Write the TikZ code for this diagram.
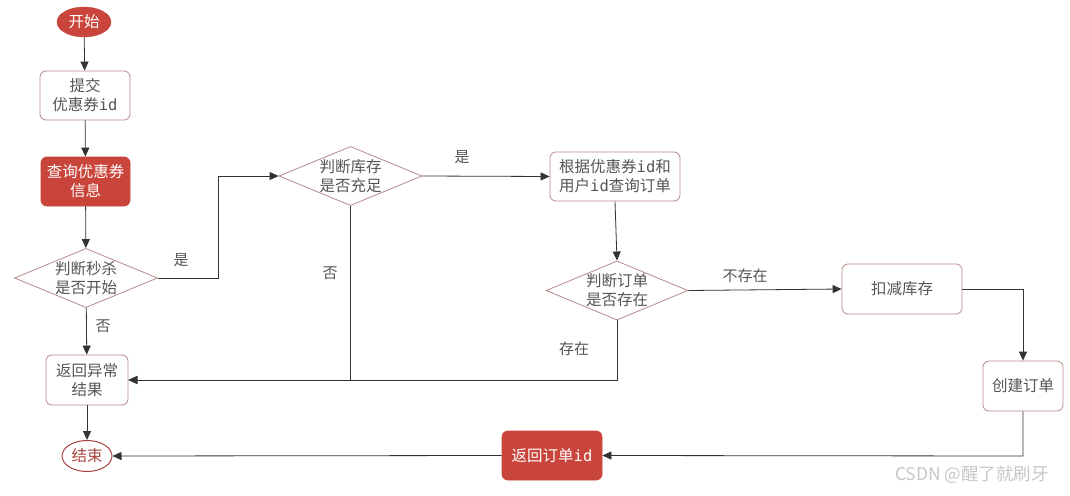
\documentclass[tikz,border=0pt]{standalone}
\usepackage{fontspec}
\setmainfont{Noto Sans CJK SC}
\newfontfamily\idfont{DejaVu Sans Mono}
\usetikzlibrary{arrows.meta,shapes.geometric}
\definecolor{redfill}{HTML}{C9443A}
\definecolor{endred}{HTML}{A8443E}
\definecolor{boxline}{HTML}{B88A88}
\definecolor{txt}{HTML}{555555}
\definecolor{lne}{HTML}{333333}
\newcommand{\idt}{{\idfont id}}
\tikzset{
  base/.style={font=\fontsize{15.5}{19}\selectfont, align=center, inner sep=0pt},
  wbox/.style={base, draw=boxline, fill=white, rounded corners=6pt, text=txt, line width=0.8pt},
  rbox/.style={base, draw=redfill, fill=redfill, rounded corners=6pt, text=white, line width=0.8pt},
  dia/.style={base, draw=boxline, diamond, aspect=2.4, text=txt, line width=0.8pt, inner sep=0pt},
  conn/.style={draw=lne, line width=0.8pt, -{Triangle[length=9pt,width=8pt]}},
  lab/.style={font=\fontsize{15}{18}\selectfont, text=txt}
}
\begin{document}
\begin{tikzpicture}[x=1pt,y=-1pt]
\useasboundingbox (0,0) rectangle (1070,495);
\fill[white] (0,0) rectangle (1070,495);
% nodes
\node[base, ellipse, fill=redfill, draw=redfill, text=white, minimum width=54pt, minimum height=30pt] (start) at (84,22) {开始};
\node[wbox, minimum width=90pt, minimum height=49pt] (submit) at (85,95.5) {提交\\优惠券\idt};
\node[rbox, minimum width=89pt, minimum height=49pt] (query) at (85.5,181.5) {查询优惠券\\信息};
\node[dia, minimum width=143pt, minimum height=59pt] (d1) at (86,278) {判断秒杀\\是否开始};
\node[wbox, minimum width=82pt, minimum height=50pt] (err) at (87,380) {返回异常\\结果};
\node[base, ellipse, draw=endred, fill=white, text=endred, line width=1pt, minimum width=50pt, minimum height=31pt] (end) at (87,456) {结束};
\node[dia, minimum width=143pt, minimum height=59pt] (d2) at (350.5,176) {判断库存\\是否充足};
\node[wbox, minimum width=130pt, minimum height=49pt] (order) at (615,176.5) {根据优惠券\idt 和\\用户\idt 查询订单};
\node[dia, minimum width=140pt, minimum height=59pt] (d3) at (617,290.5) {判断订单\\是否存在};
\node[wbox, minimum width=120pt, minimum height=50pt] (deduct) at (902,289) {扣减库存};
\node[wbox, minimum width=80pt, minimum height=50pt] (create) at (1023,386) {创建订单};
\node[rbox, minimum width=100pt, minimum height=49pt] (ret) at (552,455.5) {返回订单\idt};
% coordinates
\coordinate (k1) at (218,278);
\coordinate (k2) at (218,176);
\coordinate (k3) at (350.5,380);
\coordinate (k4) at (617,380);
\coordinate (k5) at (1023,289);
\coordinate (k6) at (1023,456);
% connectors
\path[conn] (start) -- (submit);
\path[conn] (submit) -- (query);
\path[conn] (query) -- (d1);
\path[conn] (d1) -- (err);
\path[conn] (err) -- (end);
\path[conn] (d1.east) -- (k1) -- (k2) -- (d2.west);
\path[conn] (d2.east) -- (order.west);
\path[conn] (d2.south) -- (k3) -- (err.east);
\path[conn] (order.south) -- (d3.north);
\path[conn] (d3.south) -- (k4) -- (err.east);
\path[conn] (d3.east) -- (deduct.west);
\path[conn] (deduct.east) -- (k5) -- (create.north);
\path[conn] (create.south) -- (k6) -- (ret.east);
\path[conn] (ret.west) -- (end.east);
% labels
\node[lab] (l1) at (103,326) {否};
\node[lab] (l2) at (181,260) {是};
\node[lab] (l3) at (462,157) {是};
\node[lab] (l4) at (330,273) {否};
\node[lab] (l5) at (574,349) {存在};
\node[lab] (l6) at (745,276) {不存在};
\node[font=\fontsize{17.5}{20}\selectfont, text=black!22] (wm) at (972,475) {CSDN @醒了就刷牙};
\end{tikzpicture}
\end{document}
